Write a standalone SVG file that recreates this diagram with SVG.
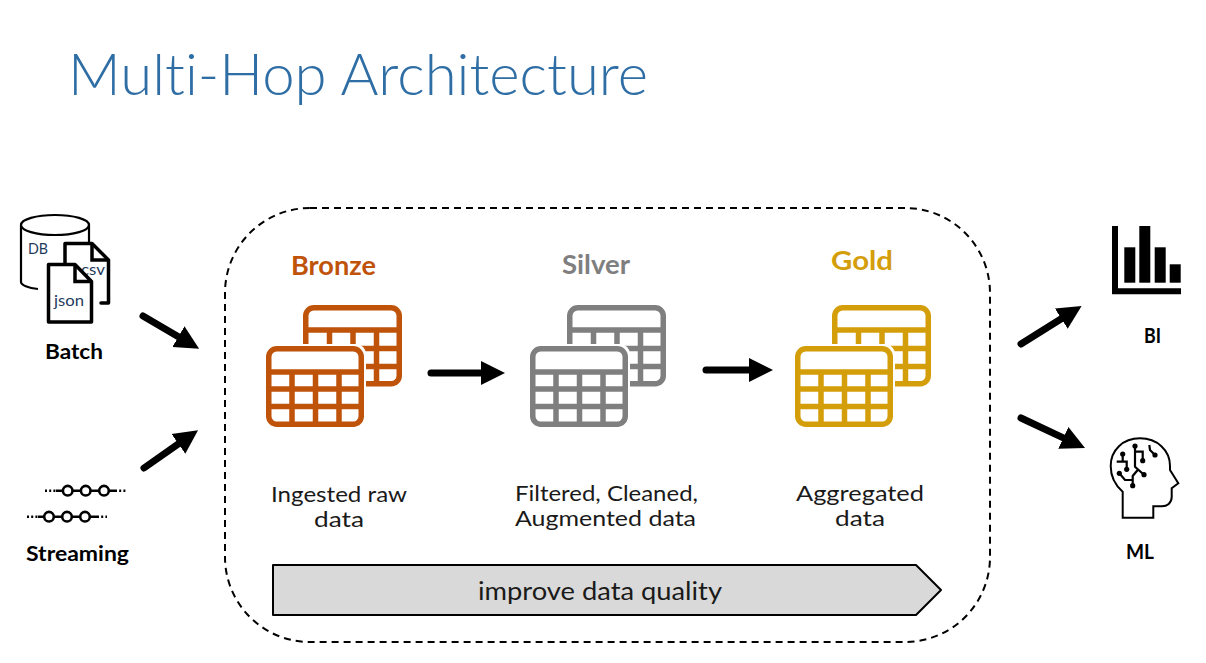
<svg xmlns="http://www.w3.org/2000/svg" xmlns:xlink="http://www.w3.org/1999/xlink" width="1206" height="663" viewBox="0 0 1206 663">
<style>
text{font-family:"Lato","Open Sans","Liberation Sans",sans-serif;font-variant-ligatures:none}
.title{font-size:57px;font-weight:300;fill:#2f6ea5}
.body{font-size:22px;fill:#1a1a1a}
.lbl{font-size:20px;font-weight:700;fill:#000}
.tier{font-size:26px;font-weight:700}
.file{font-size:16px;fill:#1f3b5c}
.conn{fill:none;stroke:#000;stroke-width:7;stroke-linecap:round;marker-end:url(#head)}
.grid{fill:none;stroke:currentColor;stroke-width:5.5}
.doc{fill:#fff;stroke:#000;stroke-width:3.5;stroke-linejoin:round}
.dash{fill:none;stroke:#000;stroke-width:2.4;stroke-dasharray:2 2.2}
.bead{fill:#fff;stroke:#000;stroke-width:2.6}
.wire{fill:none;stroke:#000;stroke-width:2.2}
.pin{fill:#000}
</style>
<defs>
<marker id="head" markerUnits="userSpaceOnUse" markerWidth="24" markerHeight="26" refX="0" refY="13" orient="auto"><path d="M0,1L24,13L0,25Z" fill="#000"/></marker>
<g id="tables">
<g class="grid">
<rect x="39.75" y="-38.25" width="93.5" height="76" rx="8"/>
<path d="M37,-16H135M37,2.5H135M37,20.5H135M63.500,-16V38M87,-16V38M110.500,-16V38"/>
</g>
<rect x="-2" y="-2" width="102" height="85" rx="10" fill="#fff"/>
<g class="grid">
<rect x="2.75" y="2.75" width="92.5" height="75.5" rx="8"/>
<path d="M2,26H96M2,43H96M2,60.500H96M26,26V79M49.500,26V79M73,26V79"/>
</g>
</g>
</defs>
<rect width="1206" height="663" fill="#fff"/>
<text class="title" x="68" y="95" textLength="580" lengthAdjust="spacingAndGlyphs">Multi-Hop Architecture</text>

<g id="batch">
<path d="M21,225V282C21,285 28,288 38,289" fill="none" stroke="#000" stroke-width="2.2"/>
<ellipse cx="55" cy="225" rx="34" ry="10" fill="#fff" stroke="#000" stroke-width="2.2"/>
<path d="M89,225V243" fill="none" stroke="#000" stroke-width="2.2"/>
<text class="file" x="28" y="254" textLength="20" lengthAdjust="spacingAndGlyphs">DB</text>
<path d="M65,263V243.500H92L108.500,260V303H101" fill="#fff" stroke="#000" stroke-width="3.500" stroke-linejoin="round" stroke-linecap="round"/>
<path d="M92,243.500V260H108.500" fill="none" stroke="#000" stroke-width="3.500"/>
<text class="file" x="81" y="275" textLength="24" lengthAdjust="spacingAndGlyphs">csv</text>
<path class="doc" d="M48.500,264.500H75L91.500,281.500V322H48.500Z"/>
<path d="M75,264.500V281.500H91.500" fill="none" stroke="#000" stroke-width="3.500"/>
<text class="file" x="54" y="306" textLength="30" lengthAdjust="spacingAndGlyphs">json</text>
<text class="lbl" x="45" y="359" textLength="58" lengthAdjust="spacingAndGlyphs">Batch</text>
</g>

<g id="streaming">
<path class="dash" d="M45,490.700H56M115,490.700H126M27,516.700H38M97,516.700H107"/>
<path d="M56,490.700H115M38,516.700H97" fill="none" stroke="#000" stroke-width="2.400"/>
<circle class="bead" cx="67.700" cy="490.700" r="4.800"/><circle class="bead" cx="85.700" cy="490.700" r="4.800"/><circle class="bead" cx="104" cy="490.700" r="4.800"/>
<circle class="bead" cx="49" cy="516.700" r="4.800"/><circle class="bead" cx="67" cy="516.700" r="4.800"/><circle class="bead" cx="85" cy="516.700" r="4.800"/>
<text class="lbl" x="26" y="561" textLength="103" lengthAdjust="spacingAndGlyphs">Streaming</text>
</g>

<g id="pipeline">
<rect x="225" y="208" width="765" height="434" rx="85" fill="none" stroke="#000" stroke-width="2" stroke-dasharray="7 5"/>
</g>

<g id="bronze" color="#c0530a">
<text class="tier" x="291" y="275" textLength="85" lengthAdjust="spacingAndGlyphs" fill="#c0530a">Bronze</text>
<use href="#tables" xlink:href="#tables" x="266" y="346"/>
<text class="body" x="271" y="502" textLength="136" lengthAdjust="spacingAndGlyphs">Ingested raw</text>
<text class="body" x="314" y="527" textLength="50" lengthAdjust="spacingAndGlyphs">data</text>
</g>
<g id="silver" color="#7f7f7f">
<text class="tier" x="562" y="274" textLength="68" lengthAdjust="spacingAndGlyphs" fill="#7f7f7f">Silver</text>
<use href="#tables" xlink:href="#tables" x="530" y="346"/>
<text class="body" x="515" y="501" textLength="183" lengthAdjust="spacingAndGlyphs">Filtered, Cleaned,</text>
<text class="body" x="515" y="526" textLength="181" lengthAdjust="spacingAndGlyphs">Augmented data</text>
</g>
<g id="gold" color="#d49e0a">
<text class="tier" x="831" y="270" textLength="62" lengthAdjust="spacingAndGlyphs" fill="#d49e0a">Gold</text>
<use href="#tables" xlink:href="#tables" x="795" y="346"/>
<text class="body" x="796" y="501" textLength="128" lengthAdjust="spacingAndGlyphs">Aggregated</text>
<text class="body" x="835" y="526" textLength="50" lengthAdjust="spacingAndGlyphs">data</text>
</g>

<g id="quality">
<path d="M273,565H916L941,590L916,615H273Z" fill="#d9d9d9" stroke="#000" stroke-width="2" stroke-linejoin="round"/>
<text x="478" y="600" font-size="25" fill="#1a1a1a" textLength="244" lengthAdjust="spacingAndGlyphs">improve data quality</text>
</g>

<g id="bi">
<path d="M1112,226H1118V288.300H1181V294.300H1112Z" fill="#000"/>
<rect x="1124.300" y="247.300" width="11" height="35.400"/><rect x="1139.300" y="226" width="11" height="56.700"/><rect x="1154.700" y="247.300" width="11" height="35.400"/><rect x="1169.700" y="264.300" width="11" height="18.400"/>
<text class="lbl" x="1144" y="343" textLength="17" lengthAdjust="spacingAndGlyphs">BI</text>
</g>

<g id="ml">
<path d="M1122.700,517.700V491.700C1115,485 1110.700,476 1110.700,466C1110.700,450 1123,438.300 1140,438.300C1157,438.300 1170,450 1170,466V470L1178.300,483.300L1171.700,488.300V497C1171.700,503 1167,506.300 1162,506.300H1153.300V517.700Z" fill="none" stroke="#000" stroke-width="2"/>
<path class="wire" d="M1135,446V466.700L1144,474.700M1135,451.700H1142.700V460.700M1138.300,469.300L1132.700,476V485.700M1119.300,473.300L1125,480H1132.700M1122.700,454V461.700M1116.700,461.700H1126.700V469.300M1149.300,445L1150,450L1155,455"/>
<g class="pin">
<circle cx="1135" cy="446" r="2.600"/><circle cx="1142.700" cy="460.700" r="2.600"/><circle cx="1144" cy="474.700" r="2.600"/><circle cx="1132.700" cy="485.700" r="2.600"/><circle cx="1119.300" cy="473.300" r="2.600"/><circle cx="1122.700" cy="454" r="2.600"/><circle cx="1126.700" cy="469.300" r="2.600"/><circle cx="1155" cy="455" r="2.600"/>
</g>
<text class="lbl" x="1126" y="559" textLength="28" lengthAdjust="spacingAndGlyphs">ML</text>
</g>

<g id="connectors">
<line class="conn" x1="143" y1="316" x2="178.400" y2="336.700"/>
<line class="conn" x1="144" y1="468" x2="178.400" y2="443.900"/>
<line class="conn" x1="431" y1="373" x2="481" y2="373"/>
<line class="conn" x1="706" y1="370" x2="749" y2="370"/>
<line class="conn" x1="1021" y1="344" x2="1061.300" y2="318.700"/>
<line class="conn" x1="1021" y1="418" x2="1063.300" y2="437.800"/>
</g>
</svg>
